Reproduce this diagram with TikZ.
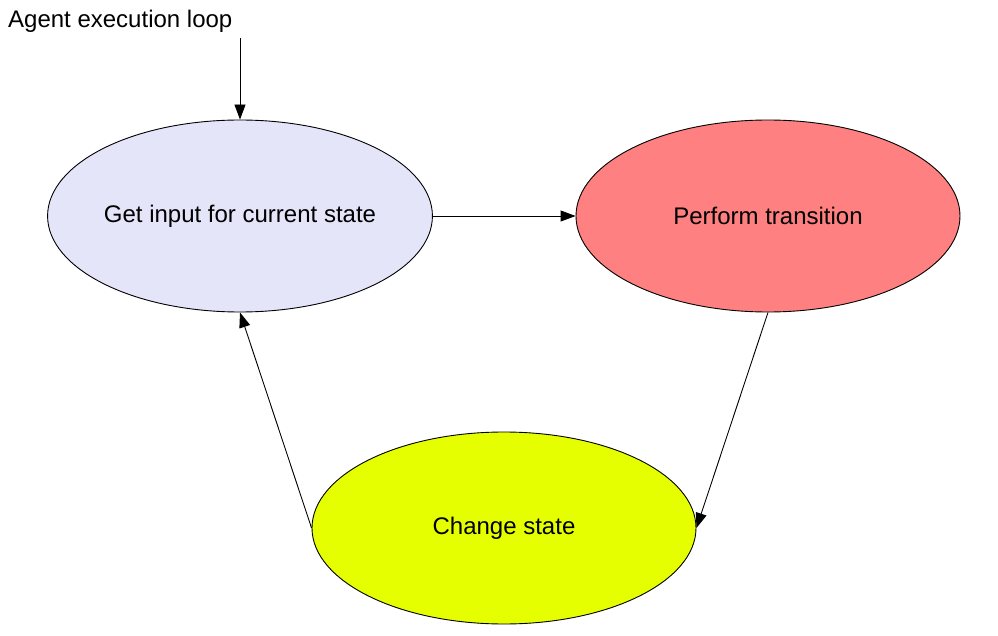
\documentclass[tikz,border=0pt]{standalone}
\usepackage{fontspec}
\setmainfont{Liberation Sans}
\usetikzlibrary{shapes.geometric,arrows.meta}
\definecolor{lav}{HTML}{E5E5FA}
\definecolor{salmon}{HTML}{FF8080}
\definecolor{lime}{HTML}{E5FF00}
\newcommand{\lowertext}[1]{\raisebox{-2pt}{#1}}
\begin{document}
\begin{tikzpicture}[x=1pt,y=-1pt,
  stateell/.style={ellipse,draw=black,line width=0.9pt,minimum width=384pt,minimum height=192pt,inner sep=0pt,font=\fontsize{24}{28}\selectfont},
  conn/.style={line width=0.9pt,-{Triangle[length=15pt,width=11pt]}}]
\useasboundingbox (0,0) rectangle (998,636);
\node[anchor=base west,inner sep=0pt,font=\fontsize{24}{28}\selectfont] (title) at (8,28) {Agent execution loop};
\coordinate (start) at (240,38);
\node[stateell,fill=lav] (get) at (240,216) {\lowertext{Get input for current state}};
\node[stateell,fill=salmon] (perf) at (768,216) {\lowertext{Perform transition}};
\node[stateell,fill=lime] (chg) at (504,528) {\lowertext{Change state}};
\draw[conn] (start) -- (get.north);
\draw[conn] (get.east) -- (perf.west);
\draw[conn] (perf.south) -- (chg.east);
\draw[conn] (chg.west) -- (get.south);
\end{tikzpicture}
\end{document}
